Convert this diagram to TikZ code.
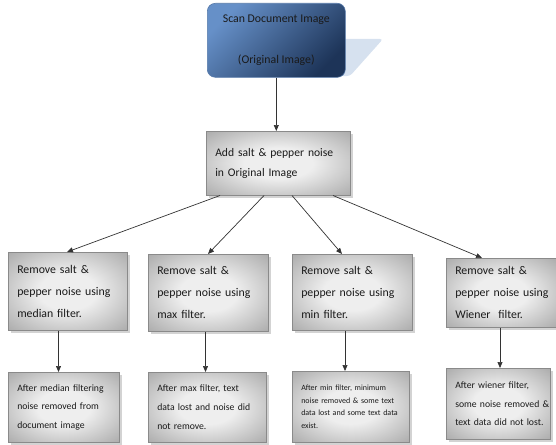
\documentclass[tikz,border=0pt]{standalone}
\usepackage{fontspec}
\setmainfont{Carlito}
\usetikzlibrary{arrows.meta,shadows}
\definecolor{gL}{HTML}{EEEEEE}
\definecolor{gD}{HTML}{666666}
\definecolor{bL}{HTML}{6690C8}
\definecolor{bD}{HTML}{1D3458}
\definecolor{bS}{HTML}{D6E1EF}
\definecolor{edge}{HTML}{8A8A8A}
\definecolor{ink}{HTML}{1A1A1A}
\pgfdeclareradialshading{grayrad}{\pgfpoint{0bp}{0bp}}{color(0bp)=(gL); color(12bp)=(gL); color(60bp)=(gD); color(72bp)=(gD)}
\begin{document}
\begin{tikzpicture}[x=1pt,y=-1pt,
  grayb/.style={draw=edge, line width=0.5pt, shading=grayrad,
    drop shadow={shadow xshift=2.5pt,shadow yshift=-2.5pt,opacity=0.35},
    anchor=north west, inner xsep=9pt, inner ysep=0pt, align=left, text=ink},
  sz/.style n args={3}{minimum width=#1, minimum height=#2, text width=#3},
  fbig/.style={font=\fontsize{11.8}{22}\selectfont},
  fmid/.style={font=\fontsize{9.7}{18.6}\selectfont},
  fsml/.style={font=\fontsize{8}{12.6}\selectfont},
  topbox/.style={draw=bL!85!black, line width=0.6pt, rounded corners=8pt,
    top color=bL, bottom color=bD, shading angle=45,
    anchor=north west, inner sep=0pt, align=center, text=ink,
    font=\fontsize{11.8}{22}\selectfont},
  arr/.style={draw=black!80, line width=0.7pt, -{Triangle[length=6pt,width=5pt]}}
]
\useasboundingbox (0,0) rectangle (556,444);
% perspective shadow of the top box
\fill[bS, rounded corners=3pt] (340,39) -- (383,39) -- (350,76) -- (340,76) -- cycle;
\node[topbox, minimum width=138pt, minimum height=74pt] (S) at (207,3)
  {Scan Document Image\\[19pt](Original Image)};
\node[grayb, sz={144pt}{64pt}{126pt}, font=\fontsize{11.6}{20.5}\selectfont] (B2) at (206,131)
  {\mbox{Add salt \& pepper noise}\\\mbox{in Original Image}};
% filter boxes
\node[grayb, fbig, sz={119pt}{78pt}{101pt}] (A) at (8,252)
  {\mbox{Remove salt \&}\\\mbox{pepper noise using}\\\mbox{median filter.}};
\node[grayb, fbig, sz={120pt}{77pt}{102pt}] (B) at (148,254)
  {\mbox{Remove salt \&}\\\mbox{pepper noise using}\\\mbox{max filter.}};
\node[grayb, fbig, sz={120pt}{76pt}{102pt}] (C) at (292,254)
  {\mbox{Remove salt \&}\\\mbox{pepper noise using}\\\mbox{min filter.}};
\node[grayb, fbig, sz={110pt}{69pt}{92pt}] (D) at (446,258)
  {\mbox{Remove salt \&}\\\mbox{pepper noise using}\\\mbox{Wiener\ \ filter.}};
% result boxes
\node[grayb, fmid, sz={111pt}{70pt}{93pt}] (E) at (8,372)
  {\mbox{After median filtering}\\\mbox{noise removed from}\\\mbox{document image}};
\node[grayb, fmid, sz={118pt}{70pt}{100pt}] (F) at (148,372)
  {\mbox{After max filter, text}\\\mbox{data lost and noise did}\\\mbox{not remove.}};
\node[grayb, fsml, sz={117pt}{71pt}{99pt}] (G) at (292,371)
  {\mbox{After min filter, minimum}\\\mbox{noise removed \& some text}\\\mbox{data lost and some text data}\\\mbox{exist.}};
\node[grayb, fmid, sz={104pt}{71pt}{86pt}] (H) at (446,368)
  {\mbox{After wiener filter,}\\\mbox{some noise removed \&}\\\mbox{text data did not lost.}};
% connectors
\draw[arr] (S.south) -- (S.south |- B2.north);
\draw[arr] ([xshift=14pt]B2.south west) -- ([xshift=59pt]A.north west);
\draw[arr] ([xshift=58pt]B2.south west) -- ([xshift=60pt]B.north west);
\draw[arr] ([xshift=86pt]B2.south west) -- ([xshift=50pt]C.north west);
\draw[arr] ([xshift=127pt]B2.south west) -- ([xshift=36pt]D.north west);
\draw[arr] ([xshift=50.5pt]A.south west) -- ([xshift=50.5pt]E.north west);
\draw[arr] ([xshift=57.5pt]B.south west) -- ([xshift=57.5pt]F.north west);
\draw[arr] ([xshift=53pt]C.south west) -- ([xshift=53pt]G.north west);
\draw[arr] ([xshift=54pt]D.south west) -- ([xshift=54pt]H.north west);
\end{tikzpicture}
\end{document}
